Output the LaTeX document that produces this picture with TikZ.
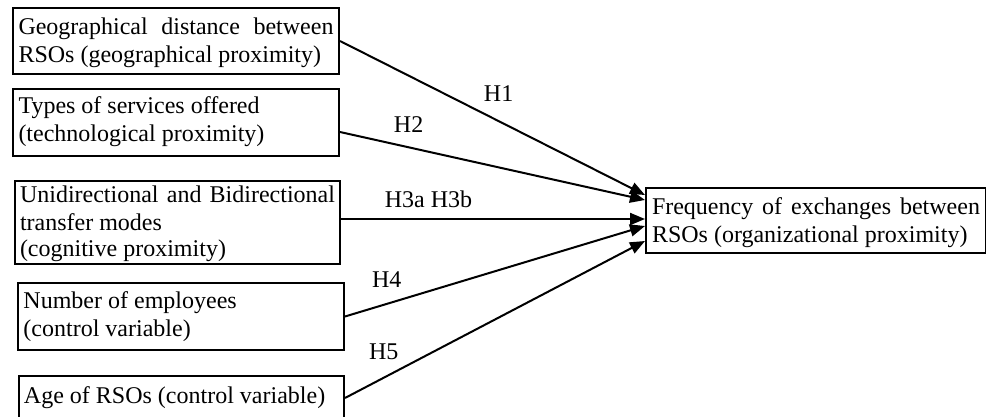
\documentclass[tikz,border=0pt]{standalone}
\usepackage{fontspec}
\setmainfont{Liberation Serif}
\usetikzlibrary{arrows.meta}
\tikzset{varbox/.style={draw,rectangle,line width=1pt,anchor=north west,
		align=justify,text width=157.5pt,inner xsep=0pt,inner ysep=0pt,
		font=\fontsize{12}{14}\selectfont},
	hlabel/.style={font=\fontsize{12}{14}\selectfont,inner sep=0pt}}

\begin{document}
\begin{tikzpicture}[x=0.5pt,y=-0.5pt]
		\useasboundingbox (0,0) rectangle (986,417);
		\clip (0,0) rectangle (986,417);
		\begin{scope}[every node/.style={varbox}]
			\node[minimum width=163pt,text height=13.5pt,text depth=19.5pt] (geo) at (12,7) {Geographical distance between RSOs (geographical proximity)};
			\node[minimum width=163pt,text height=12.5pt,text depth=21pt] (tech) at (12,88) {Types of services offered\\(technological proximity)};
			\node[minimum width=162.5pt,text height=11pt,text depth=30.5pt,font=\fontsize{12}{13.5}\selectfont] (cogn) at (14,180) {Unidirectional and Bidirectional transfer modes\\(cognitive proximity)};
			\node[minimum width=163pt,text height=12.5pt,text depth=21pt] (empl) at (17,282) {Number of employees\\(control variable)};
			\node[minimum width=162.5pt,text height=13.5pt,text depth=20pt] (age) at (18,375) {Age of RSOs (control variable)};
			\node[minimum width=170pt,text width=164pt,text height=13pt,text depth=19.5pt] (freq) at (645,187) {Frequency of exchanges between RSOs (organizational proximity)};
		\end{scope}
		\begin{scope}[>={Triangle[length=7.5pt,width=6pt]},
			every node/.style={hlabel},
			every edge/.style={draw,line width=1pt}]
			\path [->] (geo.east) edge node[pos=0.52,yshift=13.6pt] (h1) {H1} ([yshift=12.75pt]freq.west);
			\path [->] ([yshift=-4.75pt]tech.east) edge node[pos=0.225,yshift=11.6pt] (h2) {H2} ([yshift=10.25pt]freq.west);
			\path [->] ([yshift=1.75pt]cogn.east) edge node[pos=0.288,yshift=10pt] (h3) {H3a H3b} ([yshift=0.75pt]freq.west);
			\path [->] (empl.east) edge node[pos=0.139,yshift=12.1pt] (h4) {H4} ([yshift=-2.75pt]freq.west);
			\path [->] ([yshift=2.5pt]age.base east) edge node[pos=0.129,yshift=12.8pt] (h5) {H5} ([yshift=-10.25pt]freq.west);
		\end{scope}
	\end{tikzpicture}
\end{document}
